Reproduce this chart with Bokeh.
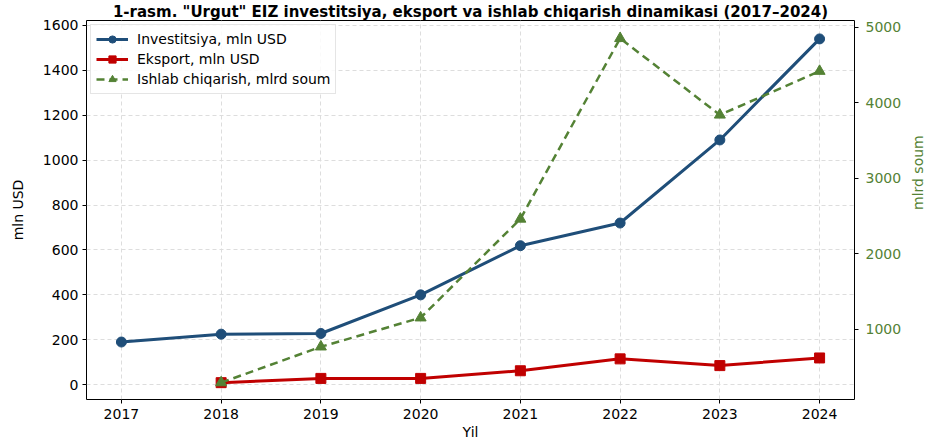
import math
from bokeh.plotting import figure
from bokeh.models import Range1d, LinearAxis, LegendItem, Legend, FixedTicker, Title
from bokeh.embed import file_html
from bokeh.resources import INLINE

years = [2017, 2018, 2019, 2020, 2021, 2022, 2023, 2024]
invest = [190, 225, 228, 400, 619, 720, 1090, 1540]
export_years = [2018, 2019, 2020, 2021, 2022, 2023, 2024]
export = [9, 28, 28, 62, 115, 85, 119]
prod_years = [2018, 2019, 2020, 2021, 2022, 2023, 2024]
prod = [290, 765, 1150, 2460, 4855, 3840, 4420]

BLUE = "#1f4e79"
RED = "#c00000"
GREEN = "#548235"
FONT = "DejaVu Sans"

p = figure(frame_width=768, frame_height=379, output_backend="svg", toolbar_location=None,
           x_range=Range1d(2016.65, 2024.35), y_range=Range1d(-66, 1622),
           min_border_left=86, min_border_right=5, min_border_bottom=5, min_border_top=0)
p.title = Title(text='1-rasm. "Urgut" EIZ investitsiya, eksport va ishlab chiqarish dinamikasi (2017\u20132024)',
                text_font=FONT, text_font_size="15px", text_font_style="bold", align="center",
                standoff=0, offset=0, text_color="black")
p.extra_y_ranges = {"prod": Range1d(66, 5092)}

p.outline_line_color = "black"
p.outline_line_width = 1
p.background_fill_color = "white"

def style_axis(ax, color="black"):
    ax.axis_line_color = None
    ax.major_tick_in = 0
    ax.major_tick_out = 4
    ax.major_tick_line_color = "black"
    ax.minor_tick_line_color = None
    ax.major_label_text_font = FONT
    ax.major_label_text_font_size = "14px"
    ax.major_label_text_color = color
    ax.major_label_standoff = 4
    ax.axis_label_text_font = FONT
    ax.axis_label_text_font_size = "14px"
    ax.axis_label_text_font_style = "normal"
    ax.axis_label_text_color = color

style_axis(p.xaxis[0])
style_axis(p.yaxis[0])
p.xaxis[0].ticker = FixedTicker(ticks=years)
p.xaxis[0].axis_label = "Yil"
p.xaxis[0].axis_label_standoff = 2
p.xaxis[0].major_label_standoff = 5
p.yaxis[0].ticker = FixedTicker(ticks=[0, 200, 400, 600, 800, 1000, 1200, 1400, 1600])
p.yaxis[0].axis_label = "mln USD"
p.yaxis[0].axis_label_standoff = 14

ax2 = LinearAxis(y_range_name="prod", axis_label="mlrd soum",
                 ticker=FixedTicker(ticks=[1000, 2000, 3000, 4000, 5000]))
style_axis(ax2, GREEN)
ax2.major_label_standoff = 7
ax2.axis_label_standoff = 14
ax2.axis_label_orientation = math.pi / 2
p.add_layout(ax2, "right")

p.xgrid.grid_line_color = "#dddddd"
p.xgrid.grid_line_dash = "4 3"
p.ygrid.grid_line_color = "#dddddd"
p.ygrid.grid_line_dash = "4 3"

l1 = p.line(years, invest, line_color=BLUE, line_width=3)
s1 = p.scatter(years, invest, marker="circle", size=10, fill_color=BLUE, line_color=BLUE)
l2 = p.line(export_years, export, line_color=RED, line_width=3)
s2 = p.scatter(export_years, export, marker="square", size=10, fill_color=RED, line_color=RED)
l3 = p.line(prod_years, prod, line_color=GREEN, line_width=2.5, line_dash="8 5", y_range_name="prod")
s3 = p.scatter(prod_years, prod, marker="triangle", size=11, fill_color=GREEN, line_color=GREEN,
               y_range_name="prod")

legend = Legend(items=[
    LegendItem(label="Investitsiya, mln USD", renderers=[l1, s1]),
    LegendItem(label="Eksport, mln USD", renderers=[l2, s2]),
    LegendItem(label="Ishlab chiqarish, mlrd soum", renderers=[l3, s3]),
], location="top_left")
legend.label_text_font = FONT
legend.label_text_font_size = "14px"
legend.label_text_color = "black"
legend.glyph_width = 32
legend.glyph_height = 18
legend.spacing = 2
legend.padding = 5
legend.margin = 4
legend.label_height = 18
legend.label_standoff = 9
legend.border_line_color = "#cccccc"
legend.border_line_width = 1
legend.background_fill_alpha = 0.85
p.add_layout(legend)

open("out.html", "w").write(file_html(p, INLINE))
